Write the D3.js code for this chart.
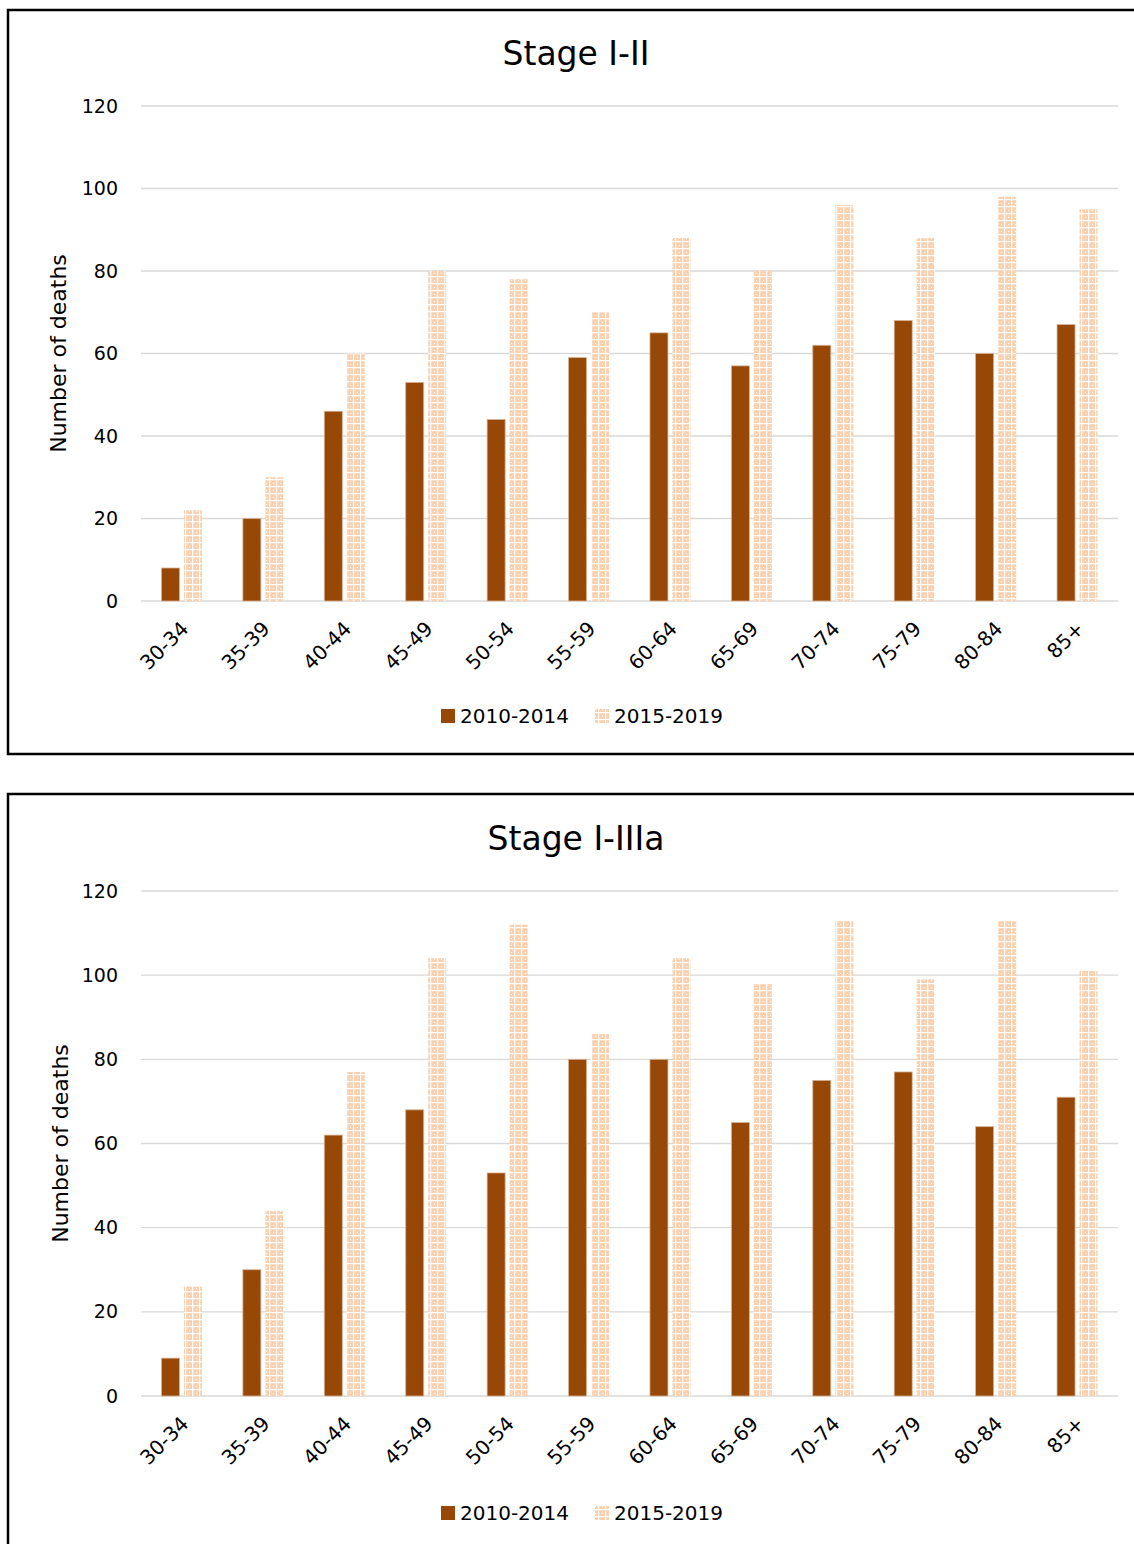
<!DOCTYPE html>
<html>
<head>
<meta charset="utf-8">
<script src="https://cdn.jsdelivr.net/npm/d3@7"></script>
<style>
  html, body { margin: 0; padding: 0; background: #fff; }
  svg { display: block; font-family: "DejaVu Sans", sans-serif; }
</style>
</head>
<body>
<svg id="chart" width="1134" height="1544"></svg>
<script>
// Age groups shared by both panels
const ageGroups = ["30-34","35-39","40-44","45-49","50-54","55-59","60-64","65-69","70-74","75-79","80-84","85+"];
const periods = ["2010-2014", "2015-2019"];
const yTicks = [0, 20, 40, 60, 80, 100, 120];

// Stage I-II deaths
const stageII_2010 = [8, 20, 46, 53, 44, 59, 65, 57, 62, 68, 60, 67];
const stageII_2015 = [22, 30, 60, 80, 78, 70, 88, 80, 96, 88, 98, 95];

// Stage I-IIIa deaths
const stageIIIa_2010 = [9, 30, 62, 68, 53, 80, 80, 65, 75, 77, 64, 71];
const stageIIIa_2015 = [26, 44, 77, 104, 112, 86, 104, 98, 113, 99, 113, 101];

const svg = d3.select("#chart");
const DARK = "#974706";
const PEACH = "#fbd0ae";
const FONT = "DejaVu Sans, sans-serif";

// Dotted lattice fill for the later period
const defs = svg.append("defs");
const pat = defs.append("pattern")
  .attr("id", "lattice")
  .attr("patternUnits", "userSpaceOnUse")
  .attr("width", 7).attr("height", 7);
pat.append("rect").attr("width", 7).attr("height", 7).attr("fill", PEACH);
pat.append("rect").attr("x", 0).attr("y", 3).attr("width", 7).attr("height", 1.2).attr("fill", "#fff");
pat.append("rect").attr("x", 3).attr("y", 0).attr("width", 1.2).attr("height", 7).attr("fill", "#fff");
pat.append("rect").attr("x", 0).attr("y", 0).attr("width", 1).attr("height", 1).attr("fill", "#fff");

function drawPanel(opts) {
  const g = svg.append("g");
  // frame
  g.append("rect")
    .attr("x", 8).attr("y", opts.frameTop)
    .attr("width", 1160).attr("height", opts.frameHeight)
    .attr("fill", "none").attr("stroke", "#000").attr("stroke-width", 2.5);

  g.append("text")
    .attr("x", 576).attr("y", opts.titleY)
    .attr("text-anchor", "middle")
    .attr("font-size", 33).attr("fill", "#000")
    .text(opts.title);

  const x = d3.scaleBand().domain(ageGroups).range([141, 1118]).paddingInner(0).paddingOuter(0);
  const y = d3.scaleLinear().domain([0, 120]).range([opts.y0, opts.y120]);

  // gridlines
  g.append("g").selectAll("line").data(yTicks).join("line")
    .attr("x1", 141).attr("x2", 1118)
    .attr("y1", d => y(d)).attr("y2", d => y(d))
    .attr("stroke", "#d9d9d9").attr("stroke-width", 1.3);

  // y axis labels
  const yAxis = d3.axisLeft(y).tickValues(yTicks).tickSize(0).tickPadding(23);
  const ya = g.append("g").attr("transform", "translate(141,0)").call(yAxis);
  ya.select(".domain").remove();
  ya.selectAll("text").attr("font-size", 19).attr("fill", "#000").attr("font-family", FONT);

  g.append("text")
    .attr("transform", `translate(${opts.yTitleX},${(opts.y0 + opts.y120) / 2}) rotate(-90)`)
    .attr("text-anchor", "middle")
    .attr("dy", "0.35em")
    .attr("font-size", 22).attr("fill", "#000")
    .text("Number of deaths");

  const barW = 18, gap = 4.5;
  const center = d => x(d) + x.bandwidth() / 2;

  g.append("g").selectAll("rect").data(ageGroups.map((a, i) => ({a, v: opts.a[i]}))).join("rect")
    .attr("x", d => center(d.a) - gap / 2 - barW)
    .attr("y", d => y(d.v))
    .attr("width", barW)
    .attr("height", d => y(0) - y(d.v))
    .attr("fill", DARK)
    .attr("stroke", "#d9b394").attr("stroke-width", 0.8);

  g.append("g").selectAll("rect").data(ageGroups.map((a, i) => ({a, v: opts.b[i]}))).join("rect")
    .attr("x", d => center(d.a) + gap / 2)
    .attr("y", d => y(d.v))
    .attr("width", barW)
    .attr("height", d => y(0) - y(d.v))
    .attr("fill", "url(#lattice)");

  // x axis labels, rotated
  const xa = g.append("g").attr("transform", `translate(0,${opts.y0})`)
    .call(d3.axisBottom(x).tickSize(0).tickPadding(0));
  xa.select(".domain").remove();
  xa.selectAll("text")
    .attr("font-size", 20).attr("fill", "#000").attr("font-family", FONT)
    .attr("text-anchor", "end")
    .attr("dy", 0)
    .attr("transform", "translate(8,29) rotate(-45)");

  // legend
  const lg = g.append("g").attr("transform", `translate(0,${opts.legendY})`);
  const items = [{label: periods[0], fill: DARK, x: 441}, {label: periods[1], fill: "url(#lattice)", x: 595}];
  items.forEach(it => {
    lg.append("rect").attr("x", it.x).attr("y", -7).attr("width", 14).attr("height", 14).attr("fill", it.fill);
    lg.append("text").attr("x", it.x + 19).attr("y", 0).attr("dy", "0.35em")
      .attr("font-size", 20).attr("fill", "#000").text(it.label);
  });
}

drawPanel({
  title: "Stage I-II", frameTop: 10, frameHeight: 744, titleY: 65,
  y0: 601, y120: 106, yTitleX: 58, legendY: 716,
  a: stageII_2010, b: stageII_2015
});

drawPanel({
  title: "Stage I-IIIa", frameTop: 794, frameHeight: 800, titleY: 850,
  y0: 1396, y120: 891, yTitleX: 60, legendY: 1513,
  a: stageIIIa_2010, b: stageIIIa_2015
});
</script>
</body>
</html>
